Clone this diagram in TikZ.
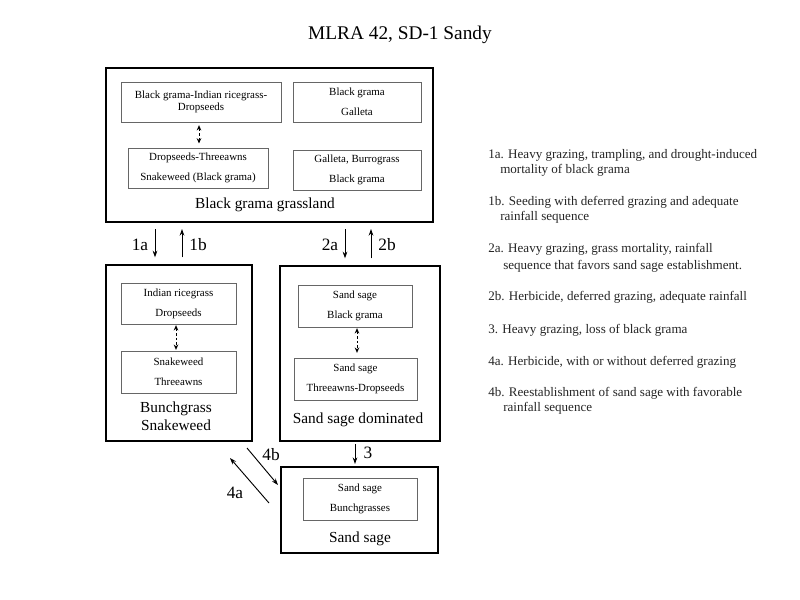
\documentclass[tikz,border=0pt]{standalone}
\usepackage{fontspec}
\setmainfont{Liberation Serif}
\usetikzlibrary{arrows.meta}
\begin{document}
\begin{tikzpicture}[x=0.75pt,y=-0.75pt,
  outer/.style={draw=black,line width=1.5pt,inner sep=0pt},
  inner/.style={draw=black!60,line width=0.75pt,align=center,inner sep=0pt,
    font=\fontsize{8.2}{9.5}\selectfont},
  lbl/.style={align=center,font=\fontsize{11.5}{13.5}\selectfont},
  num/.style={font=\fontsize{13}{15}\selectfont},
  note/.style={anchor=west,inner sep=0pt,text=black!85,font=\fontsize{9.8}{11}\selectfont},
  arr/.style={line width=0.7pt,-{Stealth[length=5pt,width=3.5pt]}},
  darr/.style={line width=0.7pt,dashed,dash pattern=on 2pt off 1.5pt,
    {Stealth[length=4pt,width=3.5pt]}-{Stealth[length=4pt,width=3.5pt]}}]
\path[use as bounding box] (0,0) rectangle (800,600);
\fill[white] (0,0) rectangle (800,600);

\node[font=\fontsize{14.5}{17}\selectfont] (title) at (400,35) {MLRA 42, SD-1 Sandy};

% State 1
\node[outer,minimum width=245.25pt,minimum height=115.5pt] (b1) at (269.5,145) {};
\node[inner,minimum width=120pt,minimum height=30pt] (iA) at (201,102)
  {Black grama-Indian ricegrass-\\Dropseeds};
\node[inner,minimum width=96pt,minimum height=30pt] (iB) at (357,102)
  {Black grama\\[5.5pt]Galleta};
\node[inner,minimum width=105pt,minimum height=30pt] (iC) at (198,168)
  {Dropseeds-Threeawns\\[5.5pt]Snakeweed (Black grama)};
\node[inner,minimum width=96pt,minimum height=30pt] (iD) at (357,170)
  {Galleta, Burrograss\\[5.5pt]Black grama};
\node[lbl] (l1) at (265,205) {Black grama grassland};

% State 2
\node[outer,minimum width=109.5pt,minimum height=132pt] (b2) at (179,353) {};
\node[inner,minimum width=86.25pt,minimum height=30.75pt] (iE) at (178.5,303.5)
  {Indian ricegrass\\[5.5pt]Dropseeds};
\node[inner,minimum width=86.25pt,minimum height=31.5pt] (iF) at (178.5,372)
  {Snakeweed\\[5.5pt]Threeawns};
\node[lbl] (l2) at (176,416) {Bunchgrass\\Snakeweed};

% State 3
\node[outer,minimum width=120pt,minimum height=131.25pt] (b3) at (360,353.5) {};
\node[inner,minimum width=85.5pt,minimum height=31.5pt] (iG) at (355,306)
  {Sand sage\\[5.5pt]Black grama};
\node[inner,minimum width=92.25pt,minimum height=31.5pt] (iH) at (355.5,379)
  {Sand sage\\[5.5pt]Threeawns-Dropseeds};
\node[lbl] (l3) at (358,420) {Sand sage dominated};

% State 4
\node[outer,minimum width=117.75pt,minimum height=64.5pt] (b4) at (359.5,510) {};
\node[inner,minimum width=85.5pt,minimum height=31.5pt] (iI) at (360,499)
  {Sand sage\\[5.5pt]Bunchgrasses};
\node[lbl] (l4) at (360,539) {Sand sage};

% dashed links inside states
\coordinate (dA) at (199,0);
\coordinate (dE) at (176,0);
\coordinate (dG) at (357,0);
\draw[darr,shorten <=2pt,shorten >=3pt] (iA.south -| dA) -- (iC.north -| dA);
\draw[darr,shorten <=0.5pt,shorten >=0.5pt] (iE.south -| dE) -- (iF.north -| dE);
\draw[darr,shorten <=0.5pt,shorten >=3.5pt] (iG.south -| dG) -- (iH.north -| dG);

% transitions
\coordinate (x1a) at (155,0);
\coordinate (x1b) at (182,0);
\coordinate (x2a) at (345,0);
\coordinate (x2b) at (371,0);
\coordinate (x3) at (355,0);
\draw[arr,shorten <=4.5pt,shorten >=5pt] (b1.south -| x1a) -- (b2.north -| x1a);
\draw[arr,shorten <=5pt,shorten >=4.5pt] (b2.north -| x1b) -- (b1.south -| x1b);
\draw[arr,shorten <=4.5pt,shorten >=5pt] (b1.south -| x2a) -- (b3.north -| x2a);
\draw[arr,shorten <=5pt,shorten >=4.5pt] (b3.north -| x2b) -- (b1.south -| x2b);
\draw[arr,shorten <=1.5pt,shorten >=1.5pt] (b3.south -| x3) -- (b4.north -| x3);
\node[num] (n1a) at (140,245) {1a};
\node[num] (n1b) at (198,245) {1b};
\node[num] (n2a) at (330,245) {2a};
\node[num] (n2b) at (387,245) {2b};
\node[num] (n3) at (368,453) {3};

\coordinate (p4b1) at (247,448);
\coordinate (p4b2) at (278,485);
\coordinate (p4a1) at (269,503);
\coordinate (p4a2) at (230,458);
\draw[arr] (p4b1) -- (p4b2);
\draw[arr] (p4a1) -- (p4a2);
\node[num] (n4b) at (271,455) {4b};
\node[num] (n4a) at (235,493) {4a};

% notes
\node[note] (t1a) at (488,155) {1a. Heavy grazing, trampling, and drought-induced};
\node[note] (t1a2) at (500,170) {mortality of black grama};
\node[note] (t1b) at (488,202) {1b. Seeding with deferred grazing and adequate};
\node[note] (t1b2) at (500,217) {rainfall sequence};
\node[note] (t2a) at (488,249) {2a. Heavy grazing, grass mortality, rainfall};
\node[note] (t2a2) at (503,266) {sequence that favors sand sage establishment.};
\node[note] (t2b) at (488,297) {2b. Herbicide, deferred grazing, adequate rainfall};
\node[note] (t3) at (488,330) {3. Heavy grazing, loss of black grama};
\node[note] (t4a) at (488,362) {4a. Herbicide, with or without deferred grazing};
\node[note] (t4b) at (488,393) {4b. Reestablishment of sand sage with favorable};
\node[note] (t4b2) at (503,408) {rainfall sequence};
\end{tikzpicture}
\end{document}
